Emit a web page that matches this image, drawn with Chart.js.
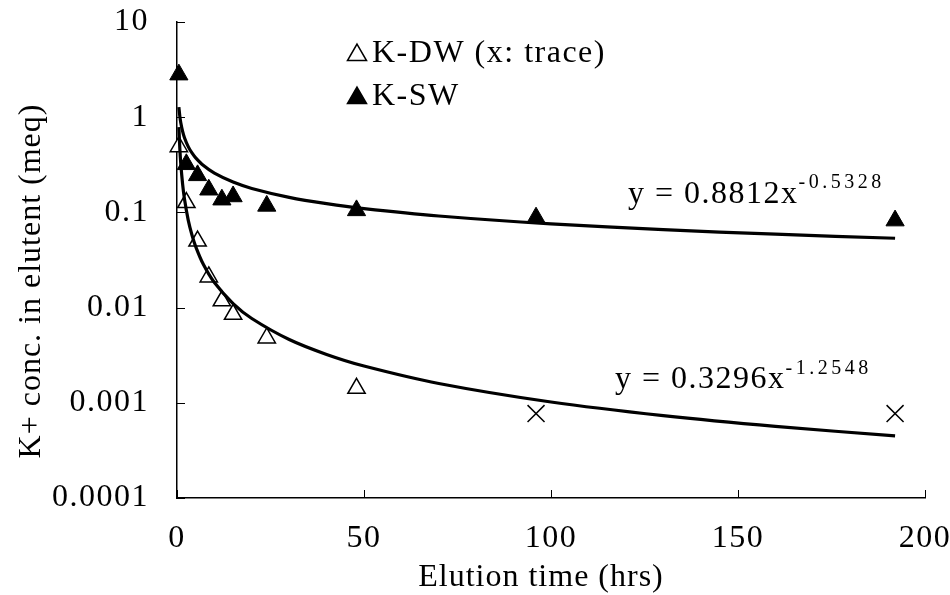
<!DOCTYPE html>
<html>
<head>
<meta charset="utf-8">
<script src="https://cdn.jsdelivr.net/npm/chart.js@4/dist/chart.umd.min.js"></script>
<style>
  html, body { margin: 0; padding: 0; background: #fff; }
  #wrap { width: 950px; height: 595px; }
</style>
</head>
<body>
<div id="wrap"><canvas id="chart" width="950" height="595"></canvas></div>
<script>
// measured points (hrs, meq)
const swTimes = [0.5, 2.5, 5.5, 8.5, 12, 15, 24, 48, 96, 192];
const swConc = [2.8, 0.32, 0.245, 0.173, 0.136, 0.147, 0.117, 0.105, 0.088, 0.082];

const dwTimes = [0.5, 2.5, 5.5, 8.5, 12, 15, 24, 48];
const dwConc = [0.49, 0.127, 0.05, 0.021, 0.0118, 0.0085, 0.0048, 0.00142];

const traceTimes = [96, 192];
const traceConc = [0.00077, 0.00077];

// power trendlines
const trendTimes = [0.5, 0.75, 1, 1.5, 2, 3, 4, 5, 7, 10, 15, 20, 30, 40, 50, 70, 100, 130, 160, 192];
const swTrend = [1.275, 1.027, 0.881, 0.710, 0.609, 0.491, 0.421, 0.374, 0.3125, 0.2584, 0.2082, 0.1786,
  0.1439, 0.1235, 0.1096, 0.0917, 0.0758, 0.0659, 0.0590, 0.0535];
const dwTrend = [0.786, 0.4729, 0.3296, 0.1982, 0.1381, 0.0830, 0.05788, 0.04374, 0.02868, 0.01833, 0.01102,
  0.00768, 0.004618, 0.00322, 0.002432, 0.001595, 0.001019, 0.000733, 0.000565, 0.000450];

const seriesNames = ['K-DW (x: trace)', 'K-SW'];
const eqSW = ['y = 0.8812x', '-0.5328'];
const eqDW = ['y = 0.3296x', '-1.2548'];

const xTicks = [0, 50, 100, 150, 200];
const yTicks = [0.0001, 0.001, 0.01, 0.1, 1, 10];
const yTickLabels = ['0.0001', '0.001', '0.01', '0.1', '1', '10'];

const xTitle = 'Elution time (hrs)';
const yTitle = 'K+ conc. in elutent (meq)';

const FONT = "'Liberation Serif', 'Times New Roman', serif";
const pts = (xs, ys) => xs.map((x, i) => ({ x: x, y: ys[i] }));

const noPad = s => { s.paddingLeft = 0; s.paddingRight = 0; s.paddingTop = 0; s.paddingBottom = 0; };

const extras = {
    id: 'extras',
    beforeDraw(chart) {
        chart.ctx.letterSpacing = '1.5px';
    },
    afterDraw(chart) {
        const ctx = chart.ctx;
        const xs = chart.scales.x, ys = chart.scales.y;
        const area = chart.chartArea;
        ctx.save();
        // tick marks point into the plot
        ctx.strokeStyle = '#000';
        ctx.lineWidth = 1;
        xTicks.forEach(v => {
            const px = Math.round(xs.getPixelForValue(v)) + 0.5;
            ctx.beginPath();
            ctx.moveTo(px, area.bottom);
            ctx.lineTo(px, area.bottom - 8);
            ctx.stroke();
        });
        yTicks.forEach(v => {
            const py = Math.round(ys.getPixelForValue(v)) + 0.5;
            ctx.beginPath();
            ctx.moveTo(area.left, py);
            ctx.lineTo(area.left + 8, py);
            ctx.stroke();
        });

        ctx.fillStyle = '#000';
        ctx.letterSpacing = '1px';
        ctx.font = '32px ' + FONT;
        ctx.textAlign = 'center';
        ctx.textBaseline = 'middle';
        ctx.fillText(xTitle, 541, 578);
        ctx.save();
        ctx.translate(32, 281);
        ctx.rotate(-Math.PI / 2);
        ctx.fillText(yTitle, 0, 0);
        ctx.restore();

        // legend markers
        ctx.lineWidth = 1.5;
        ctx.strokeStyle = '#000';
        ctx.fillStyle = '#fff';
        Chart.helpers.drawPoint(ctx, { pointStyle: 'triangle', radius: 11, borderWidth: 1.5, rotation: 0 }, 357, 55);
        ctx.fillStyle = '#000';
        Chart.helpers.drawPoint(ctx, { pointStyle: 'triangle', radius: 11, borderWidth: 1, rotation: 0 }, 357, 98);

        // legend text
        ctx.textAlign = 'left';
        ctx.textBaseline = 'alphabetic';
        ctx.letterSpacing = '1.5px';
        ctx.font = '32px ' + FONT;
        ctx.fillText(seriesNames[0], 372, 62);
        ctx.fillText(seriesNames[1], 372, 105);

        // trendline equations
        const eq = (parts, x, y, ySup) => {
            ctx.font = '32px ' + FONT;
            ctx.letterSpacing = '1.5px';
            ctx.fillText(parts[0], x, y);
            const w = ctx.measureText(parts[0]).width;
            ctx.font = '20px ' + FONT;
            ctx.letterSpacing = '3.5px';
            ctx.fillText(parts[1], x + w, ySup);
        };
        eq(eqSW, 628, 203, 188);
        eq(eqDW, 615, 388, 374);
        ctx.restore();
        ctx.letterSpacing = '0px';
    }
};

new Chart(document.getElementById('chart'), {
    type: 'scatter',
    data: {
        datasets: [
            {
                label: 'SW trend',
                data: pts(trendTimes, swTrend),
                showLine: true,
                borderColor: '#000',
                borderWidth: 3.2,
                pointRadius: 0,
                tension: 0.3,
                order: 0
            },
            {
                label: 'DW trend',
                data: pts(trendTimes, dwTrend),
                showLine: true,
                borderColor: '#000',
                borderWidth: 3.2,
                pointRadius: 0,
                tension: 0.3,
                order: 0
            },
            {
                label: seriesNames[1],
                data: pts(swTimes, swConc),
                pointStyle: 'triangle',
                pointRadius: 10.5,
                backgroundColor: '#000',
                borderColor: '#000',
                borderWidth: 1,
                clip: false,
                order: 1
            },
            {
                label: seriesNames[0],
                data: pts(dwTimes, dwConc),
                pointStyle: 'triangle',
                pointRadius: 10,
                backgroundColor: '#fff',
                borderColor: '#000',
                borderWidth: 1.5,
                clip: false,
                order: 1
            },
            {
                label: 'trace',
                data: pts(traceTimes, traceConc),
                pointStyle: 'crossRot',
                pointRadius: 12,
                borderColor: '#000',
                borderWidth: 1.5,
                clip: false,
                order: 1
            }
        ]
    },
    options: {
        responsive: false,
        devicePixelRatio: 1,
        animation: false,
        layout: { padding: { left: 0, right: 25, top: 22, bottom: 0 } },
        plugins: {
            legend: { display: false },
            tooltip: { enabled: false }
        },
        scales: {
            x: {
                type: 'linear',
                min: 0,
                max: 200,
                afterBuildTicks: s => { s.ticks = xTicks.map(v => ({ value: v })); },
                afterFit: s => { s.height = 97; noPad(s); },
                ticks: {
                    autoSkip: false,
                    maxRotation: 0,
                    padding: 21,
                    color: '#000',
                    font: { family: FONT, size: 32 },
                    callback: v => `${v}`
                },
                grid: { display: false, drawTicks: false },
                border: { display: true, color: '#000', width: 1.5 }
            },
            y: {
                type: 'logarithmic',
                min: 0.0001,
                max: 10,
                afterBuildTicks: s => { s.ticks = yTicks.map(v => ({ value: v })); },
                afterFit: s => { s.width = 177; noPad(s); },
                ticks: {
                    autoSkip: false,
                    padding: 28,
                    color: '#000',
                    font: { family: FONT, size: 32 },
                    callback: (v) => yTickLabels[yTicks.indexOf(v)]
                },
                grid: { display: false, drawTicks: false },
                border: { display: true, color: '#000', width: 1.5 }
            }
        }
    },
    plugins: [extras]
});
</script>
</body>
</html>
